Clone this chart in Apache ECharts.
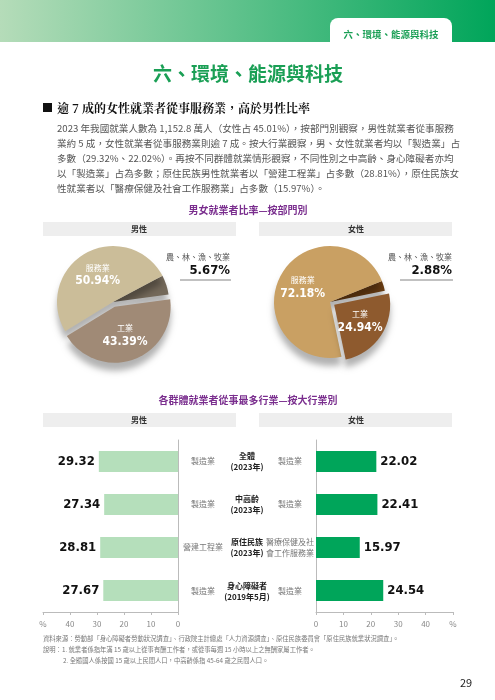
<!DOCTYPE html>
<html><head><meta charset="utf-8">
<script src="https://cdn.jsdelivr.net/npm/echarts@6/dist/echarts.min.js"></script>
<style>html,body{margin:0;padding:0;background:#fff}#c{width:495px;height:700px}</style>
</head><body><div id="c"></div>
<script>
const sectors = ['農、林、漁、牧業','工業','服務業'];
const maleSector = [5.67, 43.39, 50.94];
const femaleSector = [2.88, 24.94, 72.18];
const groups = ['全體\n(2023年)','中高齡\n(2023年)','原住民族\n(2023年)','身心障礙者\n(2019年5月)'];
const maleInd = ['製造業','製造業','營建工程業','製造業'];
const femaleInd = ['製造業','製造業','醫療保健及社\n會工作服務業','製造業'];
const maleVal = [29.32, 27.34, 28.81, 27.67];
const femaleVal = [22.02, 22.41, 15.97, 24.54];
const ticks = [0,10,20,30,40,50];

const F = '"Noto Sans CJK TC","Noto Sans",sans-serif';
const N = '"DejaVu Sans Condensed","Liberation Sans Narrow",sans-serif';
const chart = echarts.init(document.getElementById('c'));

function pie(vals, center, colors, start){
  return {type:'pie', center:center, radius:[0,56], startAngle:start, silent:true,
    data: sectors.map((s,i)=>({name:s, value:vals[i],
      selected: i===1,
      itemStyle:{color:colors[i], shadowBlur:6, shadowColor:'rgba(0,0,0,0.3)', shadowOffsetY:8},
      label:{show:i!==0}})),
    selectedMode:'single', selectedOffset:5,
    label:{position:'inner', color:'#fff', fontFamily:F,
      formatter:p=>'{n|'+p.name+'}\n{v|'+p.value.toFixed(2)+'%}',
      rich:{n:{fontSize:8,color:'#fff',fontFamily:F,lineHeight:12},
            v:{fontSize:12,color:'#fff',fontFamily:N,fontWeight:'bold',lineHeight:15}}},
    labelLine:{show:false}};
}
const axisCommon = {min:0,max:50,interval:10,
  axisLine:{show:true,lineStyle:{color:'#bbb'}}, axisTick:{show:true,length:3,lineStyle:{color:'#bbb'}},
  splitLine:{show:false}, axisLabel:{color:'#888',fontSize:8,fontFamily:F,formatter:v=>v===50?'%':v}};
const catCommon = {type:'category', data:groups, inverse:true, axisLabel:{show:false}, axisTick:{show:false},
  axisLine:{show:true,lineStyle:{color:'#bbb'}}};

function txt(x,y,t,o){return Object.assign({type:'text',x:x,y:y,style:Object.assign({text:t,fontFamily:F,fontSize:10,fill:'#333'},o||{})});}

const graphic = [
  {type:'rect',shape:{x:0,y:0,width:495,height:42},style:{fill:new echarts.graphic.LinearGradient(0,0,1,0,[{offset:0,color:'#b5dcb9'},{offset:1,color:'#00a55a'}])}},
  {type:'rect',shape:{x:330,y:18,width:122,height:26,r:[8,8,0,0]},style:{fill:'#fff'}},
  txt(391,34,'六、環境、能源與科技',{fill:'#1a9f55',fontSize:9.5,fontWeight:'bold',align:'center',verticalAlign:'middle'}),
  txt(248,74,'六、環境、能源與科技',{fill:'#1a9f55',fontSize:19,fontWeight:'bold',align:'center',verticalAlign:'middle'}),
  {type:'rect',shape:{x:43,y:103,width:9,height:9},style:{fill:'#111'}},
  txt(57,108,'逾 7 成的女性就業者從事服務業，高於男性比率',{fontFamily:'"Noto Serif CJK TC","Noto Sans CJK TC",serif',fontSize:12,fontWeight:'bold',fill:'#111',verticalAlign:'middle'}),
  txt(57,128,'2023 年我國就業人數為 1,152.8 萬人（女性占 45.01%），按部門別觀察，男性就業者從事服務',{fontSize:9.6,fill:'#555',verticalAlign:'middle'}),
  txt(57,143,'業約 5 成，女性就業者從事服務業則逾 7 成。按大行業觀察，男、女性就業者均以「製造業」占',{fontSize:9.6,fill:'#555',verticalAlign:'middle'}),
  txt(57,158,'多數（29.32%、22.02%）。再按不同群體就業情形觀察，不同性別之中高齡、身心障礙者亦均',{fontSize:9.6,fill:'#555',verticalAlign:'middle'}),
  txt(57,173,'以「製造業」占為多數；原住民族男性就業者以「營建工程業」占多數（28.81%），原住民族女',{fontSize:9.6,fill:'#555',verticalAlign:'middle'}),
  txt(57,188,'性就業者以「醫療保健及社會工作服務業」占多數（15.97%）。',{fontSize:9.6,fill:'#555',verticalAlign:'middle'}),
  txt(248,210,'男女就業者比率—按部門別',{fill:'#7a2e8e',fontSize:10,fontWeight:'bold',align:'center',verticalAlign:'middle'}),
  {type:'rect',shape:{x:43,y:222,width:193,height:14},style:{fill:'#eeeeee'}},
  {type:'rect',shape:{x:259,y:222,width:193,height:14},style:{fill:'#eeeeee'}},
  txt(139,229,'男性',{fontSize:8,fontWeight:'bold',align:'center',verticalAlign:'middle'}),
  txt(356,229,'女性',{fontSize:8,fontWeight:'bold',align:'center',verticalAlign:'middle'}),
  txt(230,257,sectors[0],{fontSize:8,fill:'#555',align:'right',verticalAlign:'middle'}),
  txt(230,271,maleSector[0].toFixed(2)+'%',{fontSize:13,fontFamily:N,fontWeight:'bold',fill:'#111',align:'right',verticalAlign:'middle'}),
  {type:'line',shape:{x1:180,y1:280,x2:231,y2:280},style:{stroke:'#666',lineWidth:0.8}},
  txt(452,257,sectors[0],{fontSize:8,fill:'#555',align:'right',verticalAlign:'middle'}),
  txt(452,271,femaleSector[0].toFixed(2)+'%',{fontSize:13,fontFamily:N,fontWeight:'bold',fill:'#111',align:'right',verticalAlign:'middle'}),
  {type:'line',shape:{x1:400,y1:280,x2:453,y2:280},style:{stroke:'#666',lineWidth:0.8}},
  txt(248,400,'各群體就業者從事最多行業—按大行業別',{fill:'#7a2e8e',fontSize:10,fontWeight:'bold',align:'center',verticalAlign:'middle'}),
  {type:'rect',shape:{x:43,y:413,width:193,height:14},style:{fill:'#eeeeee'}},
  {type:'rect',shape:{x:259,y:413,width:193,height:14},style:{fill:'#eeeeee'}},
  txt(139,420,'男性',{fontSize:8,fontWeight:'bold',align:'center',verticalAlign:'middle'}),
  txt(356,420,'女性',{fontSize:8,fontWeight:'bold',align:'center',verticalAlign:'middle'}),
  txt(43,639,'資料來源：勞動部「身心障礙者勞動狀況調查」、行政院主計總處「人力資源調查」、原住民族委員會「原住民族就業狀況調查」。',{fontSize:6.3,fill:'#777',verticalAlign:'middle'}),
  txt(43,650,'說明：1. 就業者係指年滿 15 歲以上從事有酬工作者，或從事每週 15 小時以上之無酬家屬工作者。',{fontSize:6.3,fill:'#777',verticalAlign:'middle'}),
  txt(63,661,'2. 全體國人係按國 15 歲以上民間人口，中高齡係指 45-64 歲之民間人口。',{fontSize:6.3,fill:'#777',verticalAlign:'middle'}),
  txt(466,683,'29',{fontSize:11,fill:'#222',align:'center',verticalAlign:'middle'})
];
const rows=[461,504,547,591];
rows.forEach((y,i)=>{
  graphic.push(txt(203,y,maleInd[i],{fontSize:8,fill:'#777',align:'center',verticalAlign:'middle',lineHeight:11}));
  graphic.push(txt(290,y,femaleInd[i],{fontSize:8,fill:'#777',align:'center',verticalAlign:'middle',lineHeight:11}));
  graphic.push(txt(247,y,groups[i],{fontSize:8,fontWeight:'bold',fill:'#222',align:'center',verticalAlign:'middle',lineHeight:11}));
});

chart.setOption({
  animation:false,
  grid:[{left:43,width:135,top:440,height:172},{left:316,width:137,top:440,height:172}],
  xAxis:[Object.assign({gridIndex:0,type:'value',inverse:true},axisCommon),Object.assign({gridIndex:1,type:'value'},axisCommon)],
  yAxis:[Object.assign({gridIndex:0,position:'right'},catCommon),Object.assign({gridIndex:1,position:'left'},catCommon)],
  series:[
    pie(maleSector,[113,302],['#74695a','#a08a76','#cbbd99'],28),
    pie(femaleSector,[330,302],['#6b3d12','#8e5a2e','#c9a063'],22),
    {type:'bar',xAxisIndex:0,yAxisIndex:0,data:maleVal,barWidth:21,itemStyle:{color:'#b5dfbb'},
      label:{show:true,position:'left',distance:4,fontFamily:N,fontWeight:'bold',fontSize:13,color:'#111',formatter:p=>p.value.toFixed(2)}},
    {type:'bar',xAxisIndex:1,yAxisIndex:1,data:femaleVal,barWidth:21,itemStyle:{color:'#00a55a'},
      label:{show:true,position:'right',distance:4,fontFamily:N,fontWeight:'bold',fontSize:13,color:'#111',formatter:p=>p.value.toFixed(2)}}
  ],
  graphic:graphic
});
</script></body></html>
